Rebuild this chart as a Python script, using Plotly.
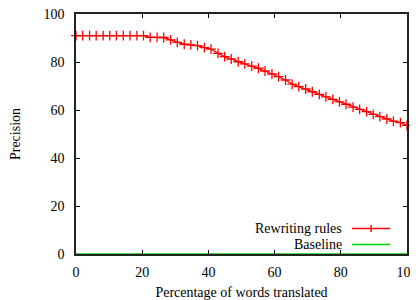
import plotly.graph_objects as go

# Data
pct_translated = [0, 2.0, 4.1, 6.1, 8.2, 10.2, 12.2, 14.3, 16.3, 18.4, 20.4, 22.4, 24.5, 26.5,
                  28.6, 30.6, 32.7, 34.7, 36.7, 38.8, 40.8, 42.9, 44.9, 46.9, 49.0, 51.0, 53.1,
                  55.1, 57.1, 59.2, 61.2, 63.3, 65.3, 67.3, 69.4, 71.4, 73.5, 75.5, 77.6, 79.6,
                  81.6, 83.7, 85.7, 87.8, 89.8, 91.8, 93.9, 95.9, 98.0, 100]
rewriting_rules = [91, 91, 91, 91, 91, 91, 91, 91, 91, 91, 91, 90.3, 90.3, 90.2,
                   89.2, 88.2, 87.4, 87.1, 86.8, 86.0, 85.4, 83.6, 82.2, 81.25, 80.1, 79.2, 78.3,
                   77.4, 76.25, 75.0, 73.9, 72.5, 70.8, 69.7, 68.75, 67.6, 66.5, 65.5, 64.4, 63.4,
                   62.4, 61.2, 60.3, 59.3, 58.2, 57.2, 56.25, 55.4, 54.7, 53.6]
baseline_x = [0, 100]
baseline_y = [0, 0]
x_ticks = [0, 20, 40, 60, 80, 100]
y_ticks = [0, 20, 40, 60, 80, 100]

RED = "#ff0000"
GREEN = "#00d000"
FONT = "Liberation Serif"
FS = 14

fig = go.Figure()
fig.add_trace(go.Scatter(
    x=baseline_x, y=baseline_y, mode="lines", name="Baseline",
    line=dict(color=GREEN, width=1.5), showlegend=False, cliponaxis=False))
fig.add_trace(go.Scatter(
    x=pct_translated, y=rewriting_rules, mode="lines+markers", name="Rewriting rules",
    line=dict(color=RED, width=1.3),
    marker=dict(symbol="cross-thin", size=7, line=dict(color=RED, width=1.3)),
    showlegend=False, cliponaxis=False))

axis_common = dict(showgrid=False, zeroline=False, showline=True, linecolor="#222222",
                   linewidth=1.5, mirror="ticks", ticks="inside", ticklen=4,
                   tickcolor="black", tickwidth=1, ticklabeloverflow="allow",
                   automargin=False,
                   tickfont=dict(family=FONT, size=FS, color="black"))

fig.update_xaxes(range=[0, 100], tickvals=x_ticks, ticklabelstandoff=4,
                 title=dict(text="Percentage of words translated",
                            font=dict(family=FONT, size=FS, color="black"), standoff=9),
                 **axis_common)
fig.update_yaxes(range=[0, 100], tickvals=y_ticks, ticklabelstandoff=7,
                 title=dict(text="Precision",
                            font=dict(family=FONT, size=FS, color="black"), standoff=27),
                 **axis_common)

# gnuplot-style key: text right-aligned, sample to the right
key_rows = [("Rewriting rules", RED, 0.1063, True), ("Baseline", GREEN, 0.0396, False)]
for label, color, yk, cross in key_rows:
    fig.add_annotation(x=0.806, y=yk, xref="paper", yref="paper", text=label,
                       showarrow=False, xanchor="right", yanchor="middle", borderpad=0,
                       font=dict(family=FONT, size=FS, color="black"))
    fig.add_shape(type="line", xref="paper", yref="paper", x0=0.834, x1=0.949, y0=yk, y1=yk,
                  line=dict(color=color, width=1.5))
    if cross:
        xc = (0.834 + 0.949) / 2
        fig.add_shape(type="line", xref="paper", yref="paper", x0=xc, x1=xc,
                      y0=yk - 0.015, y1=yk + 0.015, line=dict(color=color, width=1.5))

# the page body has an 8px margin, so the figure is offset by 8px
fig.update_layout(width=410, height=292, margin=dict(l=68, r=11, t=6, b=46),
                  plot_bgcolor="white", paper_bgcolor="white",
                  font=dict(family=FONT, size=FS, color="black"))

fig.write_html("out.html")
